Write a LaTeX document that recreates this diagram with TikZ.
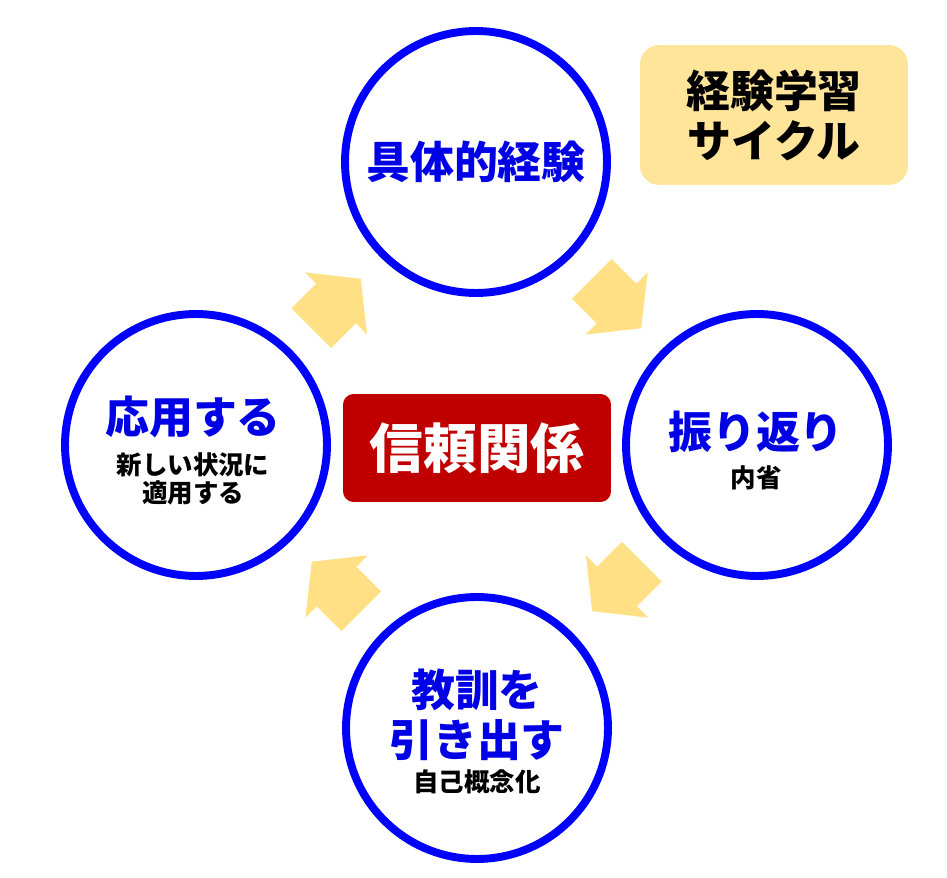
\documentclass[tikz,border=0pt]{standalone}
\usepackage{fontspec}
\usetikzlibrary{positioning, calc}
\newfontfamily\jpfont{Noto Sans CJK JP}
\definecolor{cycblue}{RGB}{0,0,255}
\definecolor{cyctext}{RGB}{0,0,230}
\definecolor{trustred}{RGB}{192,0,0}
\definecolor{arrgold}{RGB}{255,224,133}
\definecolor{notegold}{RGB}{255,229,153}

\begin{document}
\begin{tikzpicture}[
    x=0.02cm, y=-0.02cm,
    stage/.style = {circle, draw=cycblue, line width=4.5pt, fill=white,
                    minimum size=5.24cm, inner sep=0pt},
    head/.style  = {font=\jpfont\bfseries\fontsize{25}{28}\selectfont,
                    text=cyctext, inner sep=0pt},
    sub/.style   = {font=\jpfont\bfseries\fontsize{14.5}{16}\selectfont,
                    inner sep=0pt},
    fatarr/.style = {fill=arrgold},
    trust/.style = {fill=trustred, rounded corners=6pt, text=white,
                    minimum width=5.36cm, minimum height=2.16cm,
                    font=\jpfont\bfseries\fontsize{30.5}{34}\selectfont},
    note/.style  = {fill=notegold, rounded corners=11pt, align=center,
                    minimum width=5.36cm, minimum height=2.8cm,
                    font=\jpfont\bfseries\fontsize{25}{28.3}\selectfont},
  ]
    \useasboundingbox (0,0) rectangle (947,878);
    \node[stage, head] (exp)   at (476,162) {具体的経験};
    \node[stage]       (refl)  at (757,445) {};
    \node[stage]       (concl) at (477,728) {};
    \node[stage]       (apply) at (196,445) {};
    % block arrows between the stages
    \foreach \a/\b/\ang in {apply/exp/45, exp/refl/-45,
                            refl/concl/-135, concl/apply/135}
      \fill[fatarr, shift={($(\a)!0.5!(\b)$)}, rotate=\ang]
        (-35,-28) -- (0,-28) -- (0,-44) -- (35,0)
        -- (0,44) -- (0,28) -- (-35,28) -- cycle;
    \node[head] (refl-t)   at ($(refl)+(-1,-13)$)  {振り返り};
    \node[sub]  (refl-s)   at ($(refl)+(-1,33)$)   {内省};
    \node[head] (concl-t1) at ($(concl)+(0,-38)$)  {教訓を};
    \node[head] (concl-t2) at ($(concl)+(0,12)$)   {引き出す};
    \node[sub]  (concl-s)  at ($(concl)+(0,54)$)   {自己概念化};
    \node[head] (apply-t)  at ($(apply)+(-3,-28)$) {応用する};
    \node[sub]  (apply-s1) at ($(apply)+(-3,20)$)  {新しい状況に};
    \node[sub]  (apply-s2) at ($(apply)+(-3,48)$)  {適用する};
    \node[trust] (core) at (477,448) {信頼関係};
    \node[note]  (title) at (774,115) {経験学習\\サイクル};
  \end{tikzpicture}
\end{document}
